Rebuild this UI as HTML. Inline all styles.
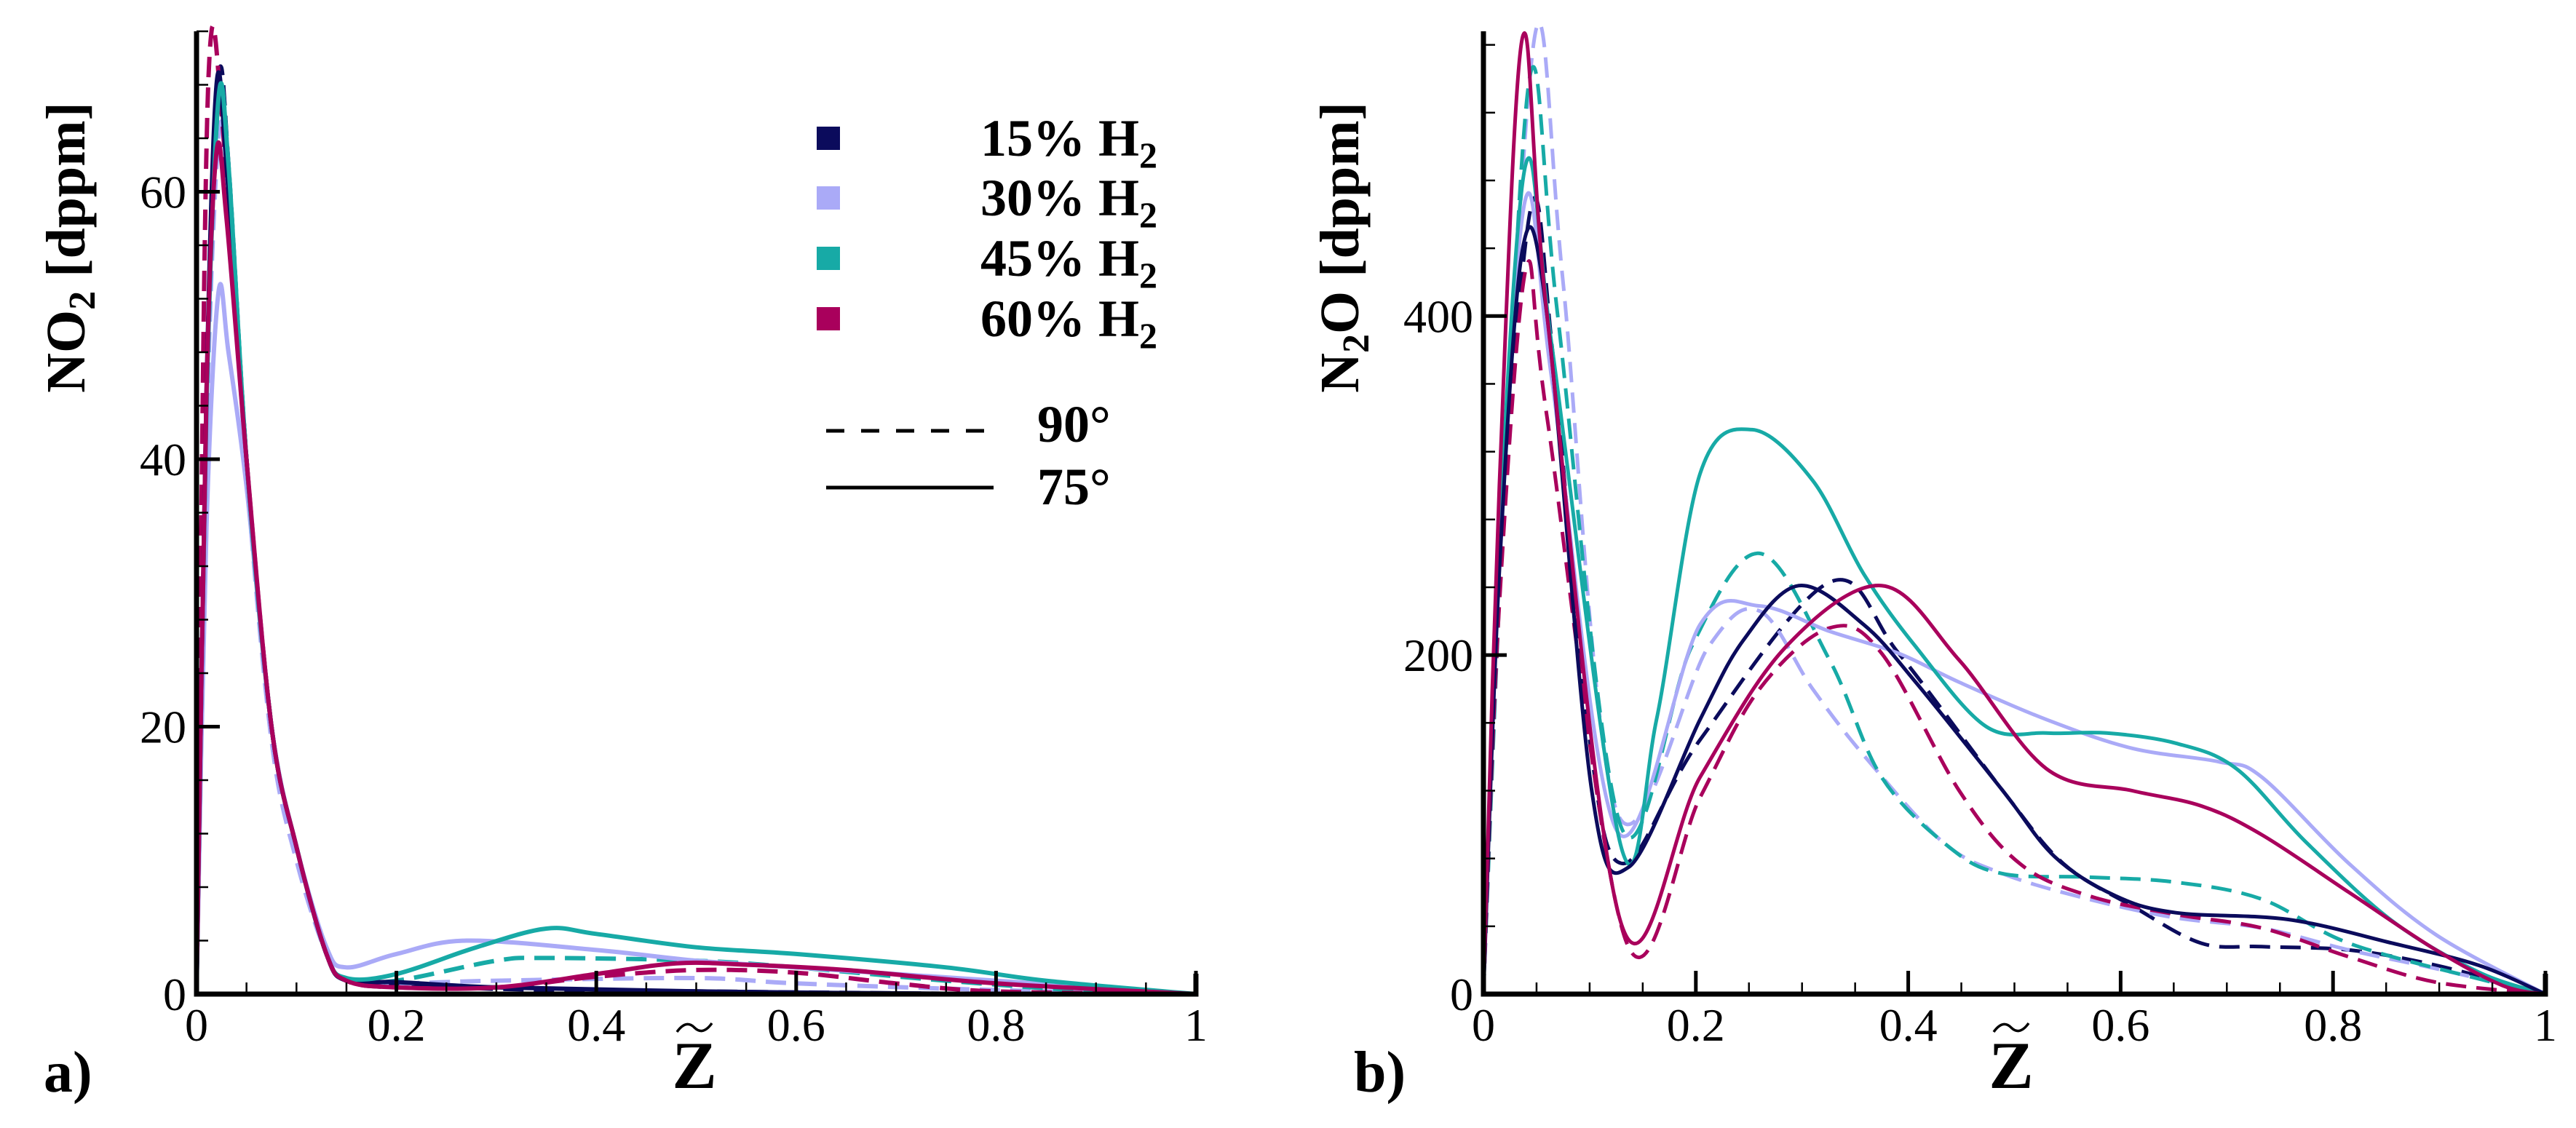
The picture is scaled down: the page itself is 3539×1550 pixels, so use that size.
<!DOCTYPE html>
<html><head><meta charset="utf-8"><style>
body{margin:0;background:#fff}
svg{display:block;font-family:"Liberation Serif",serif}
</style></head><body>
<svg id="fig" width="3539" height="1550" viewBox="0 0 3539 1550" xmlns="http://www.w3.org/2000/svg"></svg>
<script>
// ---- Data: panel a) NO2 [dppm] vs Z ----
const a15s_x=[0,0.01,0.02,0.03,0.05,0.075,0.1,0.13,0.15,0.2,0.3,0.5,0.8,1];
const a15s_y=[0,45,68,62,40,20,11,3,1,0.9,0.5,0.2,0,0];
const a15d_x=[0,0.01,0.022,0.032,0.05,0.075,0.1,0.13,0.15,0.2,0.3,0.5,0.8,1];
const a15d_y=[0,45,68.5,62,40,20,11,3,1,0.8,0.4,0.2,0,0];
const a30s_x=[0,0.01,0.022,0.032,0.05,0.075,0.1,0.13,0.15,0.2,0.27,0.4,0.5,0.6,0.8,1];
const a30s_y=[0,35,52.5,48,38,20,11,3.5,2,3,4,3.3,2.5,2,1,0];
const a30d_x=[0,0.01,0.022,0.032,0.05,0.075,0.1,0.13,0.15,0.2,0.3,0.5,0.6,0.8,1];
const a30d_y=[0,42,64,60,39,19,10,3,1,0.8,1,1.2,0.8,0.3,0];
const a45s_x=[0,0.01,0.022,0.032,0.05,0.075,0.1,0.13,0.15,0.2,0.28,0.35,0.4,0.5,0.6,0.75,0.85,1];
const a45s_y=[0,44,67,62,40,20,11,3,1.2,1.5,3.5,4.9,4.5,3.5,3,2,1,0];
const a45d_x=[0,0.01,0.022,0.032,0.05,0.075,0.1,0.13,0.15,0.2,0.3,0.35,0.5,0.6,0.75,0.9,1];
const a45d_y=[0,44,67,62,40,20,11,3,1,1,2.5,2.7,2.5,2,1,0.2,0];
const a60s_x=[0,0.01,0.02,0.03,0.05,0.075,0.1,0.13,0.15,0.2,0.3,0.4,0.48,0.55,0.65,0.8,1];
const a60s_y=[0,45,63,58,40,20,11,3,1,0.5,0.5,1.5,2.3,2.2,1.8,0.8,0];
const a60d_x=[0,0.008,0.015,0.025,0.035,0.05,0.075,0.1,0.13,0.15,0.2,0.3,0.4,0.5,0.6,0.7,0.8,1];
const a60d_y=[0,55,72,66,55,40,20,11,3,1,0.5,0.5,1.3,1.8,1.6,0.8,0.2,0];
// ---- Data: panel b) N2O [dppm] vs Z ----
const b15s_x=[0,0.015,0.037,0.06,0.102,0.137,0.204,0.245,0.297,0.358,0.407,0.489,0.538,0.595,0.652,0.758,0.856,0.937,1];
const b15s_y=[0,250,440,400,120,75,162,209,241,218,184,120,81,58,48,44,30,17,0];
const b15d_x=[0,0.015,0.045,0.065,0.1,0.132,0.204,0.326,0.391,0.489,0.546,0.611,0.676,0.733,0.815,0.897,1];
const b15d_y=[0,250,465,380,150,77,150,243,201,120,77,52,30,28,26,17,0];
const b30s_x=[0,0.015,0.04,0.065,0.126,0.204,0.26,0.326,0.391,0.448,0.53,0.611,0.693,0.733,0.815,0.897,1];
const b30s_y=[0,260,470,360,96,218,229,214,201,184,162,145,137,128,77,35,0];
const b30d_x=[0,0.02,0.05,0.075,0.126,0.212,0.26,0.31,0.358,0.432,0.489,0.57,0.652,0.733,0.815,0.897,1];
const b30d_y=[0,300,570,420,107,205,226,180,141,90,71,56,45,39,26,15,0];
const b45s_x=[0,0.015,0.04,0.065,0.13,0.163,0.204,0.253,0.31,0.358,0.407,0.473,0.53,0.587,0.652,0.709,0.774,0.856,0.937,1];
const b45s_y=[0,270,490,380,86,162,307,333,303,248,205,158,154,154,148,133,90,43,13,0];
const b45d_x=[0,0.02,0.045,0.07,0.13,0.196,0.26,0.326,0.375,0.44,0.489,0.57,0.652,0.733,0.815,0.937,1];
const b45d_y=[0,300,545,400,98,205,260,197,128,86,71,69,66,56,30,9,0];
const b60s_x=[0,0.015,0.037,0.06,0.13,0.204,0.285,0.375,0.448,0.53,0.611,0.676,0.733,0.815,0.897,0.96,1];
const b60s_y=[0,300,565,400,41,128,205,241,197,133,120,111,94,60,26,5,0];
const b60d_x=[0,0.015,0.04,0.06,0.135,0.204,0.26,0.326,0.375,0.448,0.505,0.57,0.652,0.733,0.815,0.897,1];
const b60d_y=[0,230,428,340,30,116,180,216,201,120,77,58,47,39,22,7,0];
// ticks
const aYTicks=[0,20,40,60];
const bYTicks=[0,200,400];
const xTicks=[0,0.2,0.4,0.6,0.8,1];
const xTickLabels=["0","0.2","0.4","0.6","0.8","1"];

const C={n:"#0b0b5c",l:"#aaaaf7",t:"#17aaa6",c:"#a9005c"};
const NS="http://www.w3.org/2000/svg";
const svg=document.getElementById('fig');
function mk(tag,attrs,parent){const e=document.createElementNS(NS,tag);for(const k in attrs)e.setAttribute(k,attrs[k]);(parent||svg).appendChild(e);return e;}

function panel(p){
  const g=mk('g',{});
  
  
  const sx=v=>p.x0+(p.x1-p.x0)*v;
  const sy=v=>p.y0-(p.y0-p.yTop)*(v/p.ymax);
  const clip=mk('clipPath',{id:'clip'+p.id},g);
  mk('rect',{x:p.x0,y:p.yTop-30,width:p.x1-p.x0,height:p.y0-p.yTop+30},clip);
  const sg=mk('g',{'clip-path':'url(#clip'+p.id+')'},g);
  p.series.forEach(s=>{
    const pts=s.x.map((xv,i)=>[sx(xv),sy(s.y[i])]);
    let d='M'+pts[0][0]+','+pts[0][1];
    for(let i=0;i<pts.length-1;i++){
      const p0=pts[Math.max(0,i-1)],p1=pts[i],p2=pts[i+1],p3=pts[Math.min(pts.length-1,i+2)];
      const c1=[p1[0]+(p2[0]-p0[0])/6,p1[1]+(p2[1]-p0[1])/6];
      const c2=[p2[0]-(p3[0]-p1[0])/6,p2[1]-(p3[1]-p1[1])/6];
      d+=' C'+c1[0].toFixed(1)+','+c1[1].toFixed(1)+' '+c2[0].toFixed(1)+','+c2[1].toFixed(1)+' '+p2[0].toFixed(1)+','+p2[1].toFixed(1);
    }
    const path=mk('path',{d:d,fill:'none',stroke:s.color,'stroke-width':p.lw,'stroke-dasharray':s.dash?'28 14':'none'},sg);
    
    
  });
  const ax=mk('path',{d:`M${p.x0},${p.yTop} V${p.y0} H${p.x1} V${p.y0-28}`,fill:'none',stroke:'#000','stroke-width':7},g);
  
  
  for(let v=0;v<=1.0001;v+=0.05){
    const major=Math.abs(v*5-Math.round(v*5))<1e-6;
    mk('line',{x1:sx(v),x2:sx(v),y1:p.y0,y2:p.y0-(major?32:16),stroke:'#000','stroke-width':major?5:2.5},g);
  }
  for(let v=0;v<=p.ymax+0.001;v+=p.minor){
    const major=Math.abs(v/p.major-Math.round(v/p.major))<1e-6;
    mk('line',{x1:p.x0,x2:p.x0+(major?32:16),y1:sy(v),y2:sy(v),stroke:'#000','stroke-width':major?5:2.5},g);
  }
  xTicks.forEach((v,i)=>{
    const t=mk('text',{x:sx(v),y:p.y0+64,'font-size':64,'text-anchor':'middle'},g);
    t.textContent=xTickLabels[i];
    
    
  });
  p.yTicks.forEach(v=>{
    const t=mk('text',{x:p.x0-14,y:sy(v)+22,'font-size':64,'text-anchor':'end'},g);
    t.textContent=String(v);
    
    
  });
  const xt=mk('text',{x:p.xTitleX,y:1495,'font-size':92,'font-weight':'bold','text-anchor':'middle'},g);
  xt.textContent='Z';
  
  
  const cx=p.xTitleX;
  const tl=mk('path',{d:`M${cx-24},${1418} C${cx-14},${1404} ${cx-6},${1406} ${cx},${1412} C${cx+6},${1418} ${cx+14},${1420} ${cx+24},${1406}`,fill:'none',stroke:'#000','stroke-width':3.5},g);
  
  
  const yt=mk('text',{transform:`translate(${p.yTitleX},340) rotate(-90)`,'font-size':76,'font-weight':'bold','text-anchor':'middle'},g);
  yt.innerHTML=p.yTitle;
  
  
  const pl=mk('text',{x:p.labelX,y:1500,'font-size':80,'font-weight':'bold'},g);
  pl.textContent=p.label;
  
  
}

panel({id:'a',name:'panel-a-no2',x0:270,x1:1643,y0:1366,yTop:43,ymax:72,minor:4,major:20,yTicks:aYTicks,lw:6,
  xTitleX:954,yTitleX:116,labelX:60,label:'a)',
  yTitle:'NO<tspan font-size="52" dy="14">2</tspan><tspan dy="-14"> [dppm]</tspan>',
  series:[
   {name:'line-15-90',x:a15d_x,y:a15d_y,color:C.n,dash:true},
   {name:'line-30-90',x:a30d_x,y:a30d_y,color:C.l,dash:true},
   {name:'line-45-90',x:a45d_x,y:a45d_y,color:C.t,dash:true},
   {name:'line-60-90',x:a60d_x,y:a60d_y,color:C.c,dash:true},
   {name:'line-30-75',x:a30s_x,y:a30s_y,color:C.l},
   {name:'line-15-75',x:a15s_x,y:a15s_y,color:C.n},
   {name:'line-45-75',x:a45s_x,y:a45s_y,color:C.t},
   {name:'line-60-75',x:a60s_x,y:a60s_y,color:C.c}]});
panel({id:'b',name:'panel-b-n2o',x0:2038,x1:3497,y0:1366,yTop:43,ymax:568,minor:40,major:200,yTicks:bYTicks,lw:5,
  xTitleX:2763,yTitleX:1866,labelX:1860,label:'b)',
  yTitle:'N<tspan font-size="52" dy="14">2</tspan><tspan dy="-14">O [dppm]</tspan>',
  series:[
   {name:'line-15-90',x:b15d_x,y:b15d_y,color:C.n,dash:true},
   {name:'line-30-90',x:b30d_x,y:b30d_y,color:C.l,dash:true},
   {name:'line-45-90',x:b45d_x,y:b45d_y,color:C.t,dash:true},
   {name:'line-60-90',x:b60d_x,y:b60d_y,color:C.c,dash:true},
   {name:'line-30-75',x:b30s_x,y:b30s_y,color:C.l},
   {name:'line-45-75',x:b45s_x,y:b45s_y,color:C.t},
   {name:'line-15-75',x:b15s_x,y:b15s_y,color:C.n},
   {name:'line-60-75',x:b60s_x,y:b60s_y,color:C.c}]});

// legend
const leg=mk('g',{});


const legNames=['15%','30%','45%','60%'];
const legCols=[C.n,C.l,C.t,C.c];
const legY=[190,272,355,438];
legNames.forEach((n,i)=>{
  const r=mk('rect',{x:1122,y:legY[i]-16,width:32,height:32,fill:legCols[i]},leg);
  
  
  const t=mk('text',{x:1347,y:legY[i]+24,'font-size':72,'font-weight':'bold'},leg);
  t.innerHTML=n+' H<tspan font-size="50" dy="16">2</tspan>';
  
  
});
const l1=mk('line',{x1:1135,x2:1352,y1:592,y2:592,stroke:'#000','stroke-width':5,'stroke-dasharray':'25 23'},leg);


const t1=mk('text',{x:1425,y:607,'font-size':72,'font-weight':'bold'},leg);
t1.textContent='90°';


const l2=mk('line',{x1:1135,x2:1365,y1:670,y2:670,stroke:'#000','stroke-width':5},leg);


const t2=mk('text',{x:1425,y:693,'font-size':72,'font-weight':'bold'},leg);
t2.textContent='75°';


</script>
</body></html>
